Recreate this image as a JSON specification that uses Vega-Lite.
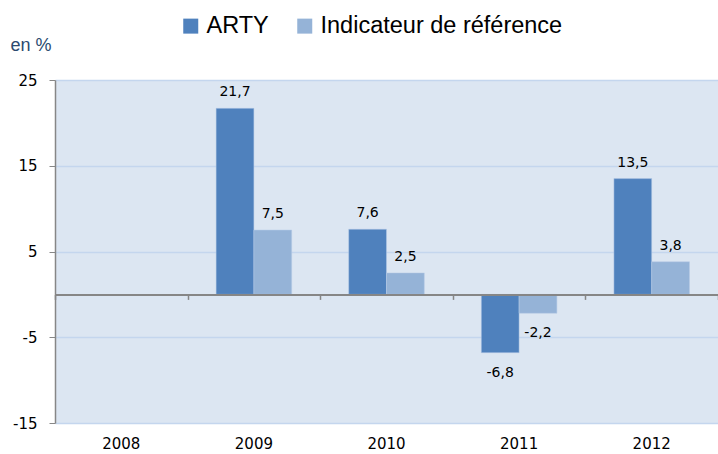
{
  "$schema": "https://vega.github.io/schema/vega-lite/v6.json",
  "width": 663,
  "height": 343,
  "autosize": "none",
  "padding": {"left": 55, "top": 80, "right": 0, "bottom": 31},
  "background": "white",
  "data": {
    "values": [
      {"year": "2009", "series": "ARTY", "value": 21.7},
      {"year": "2009", "series": "Indicateur de référence", "value": 7.5},
      {"year": "2010", "series": "ARTY", "value": 7.6},
      {"year": "2010", "series": "Indicateur de référence", "value": 2.5},
      {"year": "2011", "series": "ARTY", "value": -6.8},
      {"year": "2011", "series": "Indicateur de référence", "value": -2.2},
      {"year": "2012", "series": "ARTY", "value": 13.5},
      {"year": "2012", "series": "Indicateur de référence", "value": 3.8}
    ]
  },
  "encoding": {
    "xOffset": {"field": "series", "type": "nominal", "scale": {"domain": ["ARTY", "Indicateur de référence"], "paddingInner": 0, "paddingOuter": 0}},
    "y": {
      "field": "value", "type": "quantitative",
      "scale": {"domain": [-15, 25], "nice": false, "zero": false},
      "axis": {
        "values": [-15, -5, 5, 15, 25],
        "title": "en %", "titleAngle": 0, "titleX": -45, "titleY": -30, "titleAlign": "left", "titleBaseline": "alphabetic",
        "titleFont": "Liberation Sans", "titleFontSize": 18, "titleFontWeight": "normal", "titleColor": "#2B4A6F",
        "labelFont": "DejaVu Sans", "labelFontSize": 15, "labelColor": "#000000", "labelPadding": 12,
        "domain": true, "domainColor": "#878787", "domainWidth": 1.5,
        "ticks": true, "tickColor": "#878787", "tickSize": 6,
        "grid": true, "gridColor": "#C4D6EE", "gridWidth": 1.5
      }
    }
  },
  "layer": [
    {
      "mark": {"type": "bar", "stroke": "#B7CBE6", "strokeWidth": 0.5},
      "encoding": {
        "color": {
          "field": "series", "type": "nominal",
          "scale": {"domain": ["ARTY", "Indicateur de référence"], "range": ["#4F81BD", "#95B3D7"]},
          "legend": {
            "orient": "none", "legendX": 124, "legendY": -66, "direction": "horizontal", "title": null,
            "symbolType": "square", "symbolSize": 225, "symbolStrokeWidth": 0, "symbolOpacity": 1,
            "labelFont": "Liberation Sans", "labelFontSize": 23.5, "labelColor": "#000000", "labelOffset": 4,
            "columnPadding": 24, "labelLimit": 400
          }
        },
        "x": {
          "field": "year", "type": "nominal",
          "scale": {"domain": ["2008", "2009", "2010", "2011", "2012"], "paddingInner": 0.43, "paddingOuter": 0.215},
          "axis": {"title": null, "orient": "bottom", "labelAngle": 0, "domain": false, "ticks": false, "labelPadding": 13,
                   "labelFont": "DejaVu Sans", "labelFontSize": 15, "labelColor": "#000000"}
        }
      }
    },
    {
      "mark": {"type": "bar", "opacity": 0},
      "encoding": {
        "x": {
          "field": "year", "type": "nominal",
          "scale": {"domain": ["2008", "2009", "2010", "2011", "2012"], "paddingInner": 0, "paddingOuter": 0},
          "axis": {"title": null, "orient": "bottom", "labels": false, "offset": -128.6, "domain": true, "domainColor": "#868686", "domainWidth": 2,
                   "ticks": true, "tickBand": "extent", "tickColor": "#868686", "tickSize": 5, "tickWidth": 1.5, "zindex": 1}
        }
      }
    },
    {
      "transform": [{"filter": "datum.value >= 0"}],
      "mark": {"type": "text", "baseline": "bottom", "dy": -9, "font": "DejaVu Sans", "fontSize": 14, "color": "#000000"},
      "encoding": {
        "x": {"field": "year", "type": "nominal", "axis": null,
              "scale": {"domain": ["2008", "2009", "2010", "2011", "2012"], "paddingInner": 0.43, "paddingOuter": 0.215}},
        "text": {"field": "value", "type": "quantitative", "format": ".1f"}
      }
    },
    {
      "transform": [{"filter": "datum.value < 0"}],
      "mark": {"type": "text", "baseline": "top", "dy": 13, "font": "DejaVu Sans", "fontSize": 14, "color": "#000000"},
      "encoding": {
        "x": {"field": "year", "type": "nominal", "axis": null,
              "scale": {"domain": ["2008", "2009", "2010", "2011", "2012"], "paddingInner": 0.43, "paddingOuter": 0.215}},
        "text": {"field": "value", "type": "quantitative", "format": ".1f"}
      }
    }
  ],
  "resolve": {"scale": {"x": "independent"}, "axis": {"x": "independent"}},
  "config": {
    "locale": {"number": {"decimal": ",", "thousands": " ", "grouping": [3], "currency": ["", " €"], "minus": "-"}},
    "view": {"stroke": null, "fill": "#DCE6F2"}
  }
}
